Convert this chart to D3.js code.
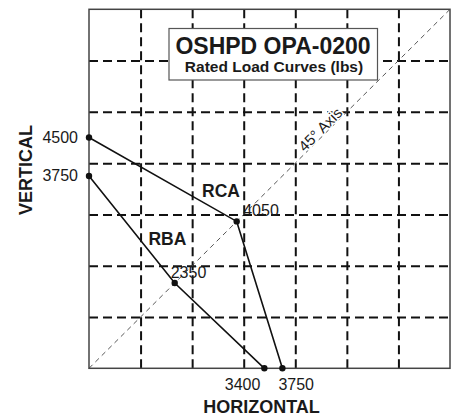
<!DOCTYPE html>
<html>
<head>
<meta charset="utf-8">
<script src="https://cdn.jsdelivr.net/npm/d3@7"></script>
<style>
  body { margin: 0; background: #fff; }
  text { font-family: "Liberation Sans", Arial, Helvetica, sans-serif; fill: #1a1a1a; }
</style>
</head>
<body>
<div class="chart"></div>
<script>
// load curves, lbs (horizontal, vertical)
var rcaPoints = [[0, 4500], [2864, 2864], [3750, 0]];
var rbaPoints = [[0, 3750], [1662, 1662], [3400, 0]];
var gridTicks = [1000, 2000, 3000, 4000, 5000, 6000];
var axisMax = 7000;
var verticalLabels = [4500, 3750];
var horizontalLabels = [3400, 3750];
var diagonalLabels = ['4050', '2350'];

var margin = { top: 9.3, right: 5, bottom: 47.7, left: 89 };
var width = 455 - margin.left - margin.right;
var height = 416 - margin.top - margin.bottom;

var svg = d3.select('.chart')
  .append('svg')
  .attr('width', 455)
  .attr('height', 416)
  .append('g')
  .attr('transform', `translate(${margin.left}, ${margin.top})`);

var x = d3.scaleLinear().domain([0, axisMax]).range([0, width]);
var y = d3.scaleLinear().domain([0, axisMax]).range([height, 0]);

// dashed grid
svg.append('g')
  .attr('transform', `translate(0, ${height})`)
  .call(d3.axisBottom(x).tickValues(gridTicks).tickSize(-height).tickFormat(''))
  .call(g => g.select('.domain').remove())
  .call(g => g.selectAll('.tick line')
    .attr('stroke', '#111').attr('stroke-width', 2).attr('stroke-dasharray', '9,5'));

svg.append('g')
  .call(d3.axisLeft(y).tickValues(gridTicks).tickSize(-width).tickFormat(''))
  .call(g => g.select('.domain').remove())
  .call(g => g.selectAll('.tick line')
    .attr('stroke', '#111').attr('stroke-width', 2).attr('stroke-dasharray', '9,5'));

// 45 degree axis
svg.append('line')
  .attr('x1', x(0)).attr('y1', y(0))
  .attr('x2', x(axisMax)).attr('y2', y(axisMax))
  .attr('stroke', '#444')
  .attr('stroke-width', 0.9)
  .attr('stroke-dasharray', '5,4');

var axisLabelPos = 4570;
svg.append('text')
  .attr('transform', `translate(${x(axisLabelPos)}, ${y(axisLabelPos)}) rotate(-45)`)
  .attr('dy', -1)
  .attr('text-anchor', 'middle')
  .attr('font-size', 15)
  .attr('stroke', '#fff')
  .attr('stroke-width', 3)
  .attr('paint-order', 'stroke')
  .text('45° Axis');

// frame
svg.append('rect')
  .attr('width', width)
  .attr('height', height)
  .attr('fill', 'none')
  .attr('stroke', '#444')
  .attr('stroke-width', 1.5);

// title box
var titleBox = svg.append('g');
titleBox.append('rect')
  .attr('x', 169 - margin.left)
  .attr('y', 28.5 - margin.top)
  .attr('width', 208.5)
  .attr('height', 51.5)
  .attr('fill', '#fff')
  .attr('stroke', '#555')
  .attr('stroke-width', 1.2);
titleBox.append('text')
  .attr('x', 273 - margin.left)
  .attr('y', 54.5 - margin.top)
  .attr('text-anchor', 'middle')
  .attr('font-size', 23)
  .attr('font-weight', 'bold')
  .text('OSHPD OPA-0200');
titleBox.append('text')
  .attr('x', 274 - margin.left)
  .attr('y', 72 - margin.top)
  .attr('text-anchor', 'middle')
  .attr('font-size', 15.5)
  .attr('font-weight', 'bold')
  .text('Rated Load Curves (lbs)');

// curves
var line = d3.line()
  .x(d => x(d[0]))
  .y(d => y(d[1]));

var curves = [rcaPoints, rbaPoints];
svg.selectAll('.curve')
  .data(curves)
  .enter()
  .append('path')
  .attr('class', 'curve')
  .attr('d', d => line(d))
  .attr('fill', 'none')
  .attr('stroke', '#111')
  .attr('stroke-width', 1.6);

svg.selectAll('.dot')
  .data(rcaPoints.concat(rbaPoints))
  .enter()
  .append('circle')
  .attr('class', 'dot')
  .attr('cx', d => x(d[0]))
  .attr('cy', d => y(d[1]))
  .attr('r', 3.2)
  .attr('fill', '#111');

// curve names
svg.append('text')
  .attr('x', x(2560)).attr('y', y(3340))
  .attr('text-anchor', 'middle')
  .attr('font-size', 17.5)
  .attr('font-weight', 'bold')
  .text('RCA');
svg.append('text')
  .attr('x', x(1520)).attr('y', y(2400))
  .attr('text-anchor', 'middle')
  .attr('font-size', 17.5)
  .attr('font-weight', 'bold')
  .text('RBA');

// value labels
svg.selectAll('.vlabel')
  .data(verticalLabels)
  .enter()
  .append('text')
  .attr('class', 'vlabel')
  .attr('x', x(0) - 11)
  .attr('y', d => y(d) + 5.5)
  .attr('text-anchor', 'end')
  .attr('font-size', 16)
  .text(d => d);

svg.selectAll('.hlabel')
  .data(horizontalLabels)
  .enter()
  .append('text')
  .attr('class', 'hlabel')
  .attr('x', d => x(d) - 4)
  .attr('y', height + 22)
  .attr('text-anchor', (d, i) => i === 0 ? 'end' : 'start')
  .attr('font-size', 16)
  .text(d => d);

var diagPts = [rcaPoints[1], rbaPoints[1]];
var diagOffsets = [[6.5, -5.5], [-4, -5.5]];
svg.selectAll('.dlabel')
  .data(diagonalLabels)
  .enter()
  .append('text')
  .attr('class', 'dlabel')
  .attr('x', (d, i) => x(diagPts[i][0]) + diagOffsets[i][0])
  .attr('y', (d, i) => y(diagPts[i][1]) + diagOffsets[i][1])
  .attr('font-size', 16)
  .text(d => d);

// axis titles
svg.append('text')
  .attr('x', width / 2 - 8)
  .attr('y', height + 45)
  .attr('text-anchor', 'middle')
  .attr('font-size', 18)
  .attr('font-weight', 'bold')
  .text('HORIZONTAL');

svg.append('text')
  .attr('transform', `translate(${32 - margin.left}, ${170 - margin.top}) rotate(-90)`)
  .attr('text-anchor', 'middle')
  .attr('font-size', 18)
  .attr('font-weight', 'bold')
  .text('VERTICAL');
</script>
</body>
</html>
